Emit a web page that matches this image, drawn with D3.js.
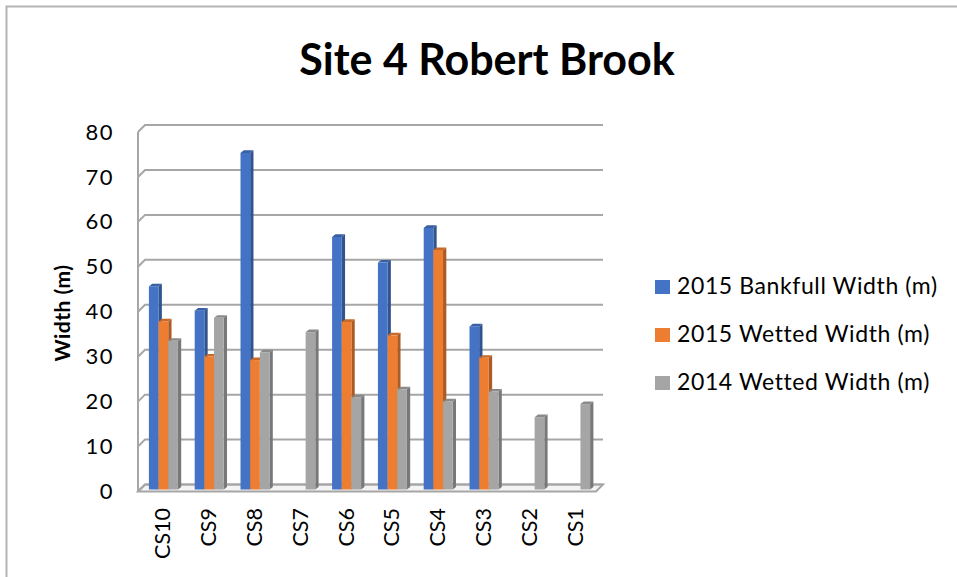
<!DOCTYPE html>
<html>
<head>
<meta charset="utf-8">
<script src="https://cdn.jsdelivr.net/npm/d3@7"></script>
<style>
  body { margin: 0; background: #fff; }
  svg { display: block; font-family: Lato, "Open Sans", sans-serif; }
</style>
</head>
<body>
<svg id="chart" width="957" height="577"></svg>
<script>
// data
const categories = ["CS10", "CS9", "CS8", "CS7", "CS6", "CS5", "CS4", "CS3", "CS2", "CS1"];
const bankfull2015 = [45.2, 39.8, 74.9, null, 56.2, 50.5, 58.2, 36.3, null, null];
const wetted2015 = [37.4, 29.6, 28.8, null, 37.3, 34.3, 53.3, 29.3, null, null];
const wetted2014 = [33.1, 38.2, 30.5, 35.0, 20.5, 22.3, 19.6, 21.8, 16.1, 19.0];
const seriesNames = ["2015 Bankfull Width (m)", "2015 Wetted Width (m)", "2014 Wetted Width (m)"];
const yTicks = [0, 10, 20, 30, 40, 50, 60, 70, 80];

const seriesValues = [bankfull2015, wetted2015, wetted2014];
const colors = ["#4472c4", "#ed7d31", "#a5a5a5"];

const svg = d3.select("#chart");

// outer frame
svg.append("rect")
  .attr("x", 6.5).attr("y", 6.5)
  .attr("width", 1000).attr("height", 1000)
  .attr("fill", "none")
  .attr("stroke", "#b4b4b4")
  .attr("stroke-width", 2);

svg.append("text")
  .attr("x", 487).attr("y", 75)
  .attr("text-anchor", "middle")
  .attr("font-size", 43)
  .attr("font-weight", "bold")
  .text("Site 4 Robert Brook");

// pseudo 3d: back wall scale + depth offset
const depth = { x: 7, y: -7 };
const left = 138, right = 596;
const yBack = d3.scaleLinear().domain([0, 80]).range([484.5, 125]);
const x = d3.scaleBand().domain(categories).range([left, right]);
const xs = d3.scaleBand().domain(d3.range(3)).range([-14.5, 14.5]);

const gridColor = "#a6a6a6";
const grid = svg.append("g")
  .attr("stroke", gridColor)
  .attr("stroke-width", 2)
  .attr("fill", "none");

// floor
grid.append("path")
  .attr("fill", "#f4f4f4")
  .attr("d", d3.line()([
    [left, yBack(0) - depth.y],
    [right, yBack(0) - depth.y],
    [right + depth.x, yBack(0)],
    [left + depth.x, yBack(0)]
  ]) + "Z");

yTicks.forEach((t) => {
  grid.append("path")
    .attr("d", d3.line()([
      [left, yBack(t) - depth.y],
      [left + depth.x, yBack(t)],
      [right + depth.x, yBack(t)]
    ]));
});

grid.append("line")
  .attr("x1", left).attr("x2", left)
  .attr("y1", yBack(80) - depth.y)
  .attr("y2", yBack(0) - depth.y);

// y tick labels
svg.append("g")
  .selectAll("text")
  .data(yTicks)
  .enter()
  .append("text")
  .attr("x", 114)
  .attr("y", (d) => yBack(d) - depth.y + 2)
  .attr("text-anchor", "end")
  .attr("dominant-baseline", "middle")
  .attr("font-size", 22)
  .attr("letter-spacing", 1.5)
  .text((d) => d);

svg.append("text")
  .attr("transform", "translate(70,313) rotate(-90)")
  .attr("text-anchor", "middle")
  .attr("font-size", 21)
  .attr("font-weight", "bold")
  .attr("letter-spacing", 0.5)
  .text("Width (m)");

// bars
const barOff = { x: 2.5, y: -2 };
const bar3d = { x: 3.3, y: -2.6 };
const bars = svg.append("g");

categories.forEach((c, i) => {
  seriesValues.forEach((vals, s) => {
    const v = vals[i];
    if (v == null) return;
    const x0 = x(c) + x.bandwidth() / 2 + xs(s) + barOff.x;
    const w = xs.bandwidth();
    const yb = yBack(0) - depth.y + barOff.y;
    const yt = yBack(v) - depth.y + barOff.y;
    const col = d3.color(colors[s]);
    // side face
    bars.append("path")
      .attr("fill", col.darker(0.9))
      .attr("d", d3.line()([
        [x0 + w, yb], [x0 + w, yt],
        [x0 + w + bar3d.x, yt + bar3d.y], [x0 + w + bar3d.x, yb + bar3d.y]
      ]) + "Z");
    // top face
    bars.append("path")
      .attr("fill", col.darker(0.5))
      .attr("d", d3.line()([
        [x0, yt], [x0 + w, yt],
        [x0 + w + bar3d.x, yt + bar3d.y], [x0 + bar3d.x, yt + bar3d.y]
      ]) + "Z");
    // front face
    bars.append("rect")
      .attr("x", x0).attr("y", yt)
      .attr("width", w).attr("height", yb - yt)
      .attr("fill", colors[s]);
  });
});

// category labels
svg.append("g")
  .selectAll("text")
  .data(categories)
  .enter()
  .append("text")
  .attr("transform", (d) => `translate(${x(d) + x.bandwidth() / 2 + 4},508) rotate(-90)`)
  .attr("text-anchor", "end")
  .attr("dominant-baseline", "middle")
  .attr("font-size", 21.5)
  .text((d) => d);

// legend
const legend = svg.append("g")
  .selectAll("g")
  .data(seriesNames)
  .enter()
  .append("g")
  .attr("transform", (d, i) => `translate(655,${287 + i * 48})`);

legend.append("rect")
  .attr("x", 0).attr("y", -7)
  .attr("width", 15).attr("height", 14)
  .attr("fill", (d, i) => colors[i]);

legend.append("text")
  .attr("x", 22).attr("y", 1)
  .attr("dominant-baseline", "middle")
  .attr("font-size", 23)
  .attr("letter-spacing", 0.6)
  .text((d) => d);
</script>
</body>
</html>
